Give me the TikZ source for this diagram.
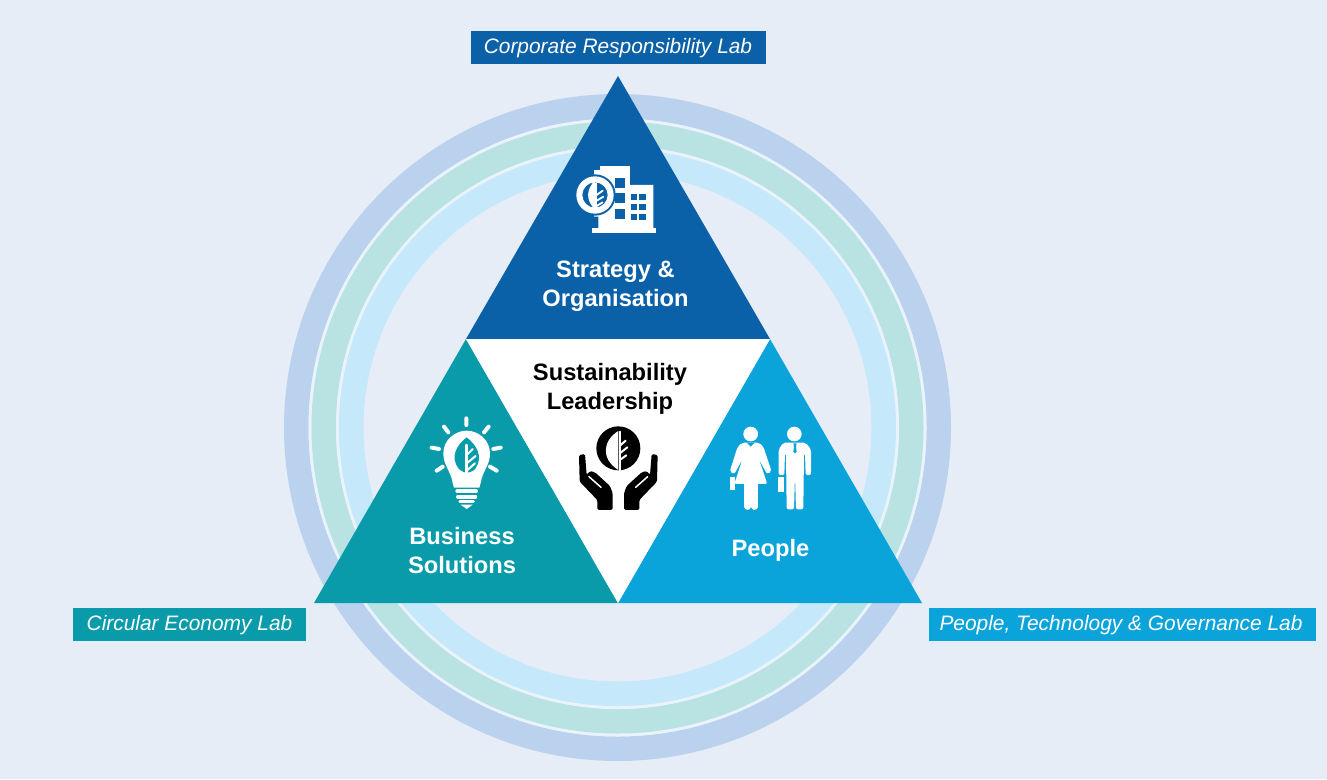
\documentclass[tikz,border=0pt]{standalone}
\usepackage{fontspec}
\setmainfont{Liberation Sans}
\definecolor{bgc}{HTML}{E6EDF6}
\definecolor{ringa}{HTML}{BAD2EE}
\definecolor{ringb}{HTML}{B9E2E3}
\definecolor{ringc}{HTML}{C5E8FA}
\definecolor{gapc}{HTML}{EAF3FB}
\definecolor{dblue}{HTML}{0A61A8}
\definecolor{teal}{HTML}{0A9BAB}
\definecolor{sky}{HTML}{0AA3DA}
\tikzset{
 x=1pt,y=-1pt,
 tag/.style={inner sep=0pt,text=white,font=\fontsize{20.9}{24}\selectfont\itshape},
 headw/.style={inner sep=0pt,align=center,text=white,font=\fontsize{23.7}{29}\selectfont\bfseries},
 headk/.style={inner sep=0pt,align=center,text=black,font=\fontsize{23.7}{29}\selectfont\bfseries},
 icon/.style={x=0.3333pt,y=-0.3333pt,line cap=round,line join=round},
}
\begin{document}
\begin{tikzpicture}
\useasboundingbox (0,0) rectangle (1327,779);
\fill[bgc] (0,0) rectangle (1327,779);
% rings
\draw[ringa,line width=24.5pt] (617.5,427.5) circle[radius=321.25];
\draw[gapc,line width=3pt] (617.5,427.5) circle[radius=307.5];
\draw[ringb,line width=24.5pt] (617.5,427.5) circle[radius=293.75];
\draw[gapc,line width=3pt] (617.5,427.5) circle[radius=280];
\draw[ringc,line width=24.5pt] (617.5,427.5) circle[radius=266.25];
% triangles
\fill[dblue] (618,76) -- (770,339) -- (466,339) -- cycle;
\fill[teal] (466,339) -- (618,603) -- (314,603) -- cycle;
\fill[sky] (770,339) -- (922,603) -- (618,603) -- cycle;
\fill[white] (466,339) -- (770,339) -- (618,603) -- cycle;
% tags
\fill[dblue] (471,31) rectangle (766,64);
\fill[teal] (73,608) rectangle (306,641);
\fill[sky] (929,608) rectangle (1316,641);
\node[tag] (lab1) at (618,48.5) {Corporate Responsibility Lab};
\node[tag] (lab2) at (189.5,625.5) {Circular Economy Lab};
\node[tag] (lab3) at (1121,625.5) {People, Technology \& Governance Lab};
% headings
\node[headw] (strat) at (615.5,286.5) {Strategy \&\\Organisation};
\node[headw] (biz) at (462,551) {Business\\Solutions};
\node[headw] (ppl) at (770.5,550) {People};
\node[headk] (lead) at (610,389) {Sustainability\\Leadership};
% building icon
\begin{scope}[shift={(540,150)},icon]
 \fill[white] (155,235) rectangle (347,250);
 \fill[white] (162,60) -- (180,60) -- (180,48) -- (270,48) -- (270,105) -- (340,105) -- (340,240) -- (175,240) -- (175,200) -- (162,200) -- cycle;
 \fill[dblue] (165,135) circle[radius=62];
 \fill[white,even odd rule] (165,135) circle[radius=56] (165,135) circle[radius=38];
 \fill[white] (165,92) .. controls (140,115) and (135,150) .. (165,178) -- cycle;
 \draw[white,line width=1.8pt] (168,100) -- (168,178);
 \draw[white,line width=1.8pt] (170,135) -- (188,122) (170,152) -- (190,140) (170,168) -- (188,157);
 \foreach \a/\b in {226/85,226/130,226/178}{\fill[dblue] (\a,\b) rectangle ++(30,30);}
 \foreach \a/\b in {272/133,298/133,272/163,298/163,272/192,298/192}{\fill[dblue] (\a,\b) rectangle ++(19,18);}
\end{scope}
% bulb icon
\begin{scope}[shift={(410,400)},icon]
 \fill[white] (125,235) .. controls (115,205) and (100,190) .. (100,160) .. controls (100,120) and (135,92) .. (170,92) .. controls (205,92) and (240,120) .. (240,160) .. controls (240,190) and (225,205) .. (215,235) .. controls (212,250) and (210,258) .. (208,263) -- (132,263) .. controls (130,258) and (128,250) .. (125,235) -- cycle;
 \fill[teal] (170,112) .. controls (140,135) and (120,170) .. (145,205) .. controls (155,215) and (165,218) .. (170,218) .. controls (175,218) and (190,215) .. (197,205) .. controls (220,170) and (200,135) .. (170,112) -- cycle;
 \draw[white,line width=2.5pt] (170,135) -- (170,245);
 \draw[white,line width=2pt] (170,165) -- (188,147) (170,190) -- (197,168) (170,212) -- (195,190);
 \draw[white,line width=4pt] (169,55) -- (169,75) (102,80) -- (115,97) (236,80) -- (222,97) (65,143) -- (87,147) (272,143) -- (250,147) (80,212) -- (98,200) (260,212) -- (240,200);
 \draw[white,line width=4pt] (142,273) -- (198,273) (144,290) -- (196,290);
 \draw[white,line width=3.5pt] (150,305) -- (190,305);
 \fill[white] (152,314) -- (188,314) -- (170,327) -- cycle;
\end{scope}
% hands icon
\begin{scope}[shift={(560,410)},icon]
 \fill[black] (175,115) circle[radius=66];
 \fill[white] (175,63) .. controls (130,90) and (120,145) .. (175,180) -- cycle;
 \draw[white,line width=2pt] (180,65) -- (180,180);
 \draw[white,line width=2pt] (182,105) -- (197,92) (182,128) -- (202,112) (182,148) -- (199,136);
 \foreach \m in {1,-1}{
 \begin{scope}[xshift=58.33pt,xscale=\m]
  \fill[black,rounded corners=1.5pt] (-118,135) -- (-100,132) -- (-95,195) -- (-85,183) -- (-70,187) -- (-25,228) -- (-17,250) -- (-17,300) -- (-63,300) -- (-63,270) -- (-116,215) -- cycle;
  \draw[white,line width=1.5pt] (-88,200) -- (-52,232);
 \end{scope}}
\end{scope}
% people icon
\begin{scope}[shift={(715,410)},icon]
 \fill[white] (107,72) circle[radius=22];
 \fill[white] (238,72) circle[radius=22];
 % woman
 \fill[white,rounded corners=2pt] (82,98) -- (132,98) -- (145,110) -- (170,185) -- (156,192) -- (132,148) -- (157,222) -- (58,222) -- (82,148) -- (58,192) -- (44,185) -- (68,110) -- cycle;
 \draw[white,line width=6.5pt,line cap=round] (98,222) -- (98,290) (119,222) -- (119,290);
 \fill[white] (44,202) rectangle (60,240);
 \fill[sky] (95,98) -- (107,110) -- (119,98) -- cycle;
 % man
 \fill[white,rounded corners=2pt] (205,98) -- (272,98) -- (288,118) -- (288,195) -- (272,195) -- (270,130) -- (267,130) -- (265,298) -- (243,298) -- (240,195) -- (237,298) -- (215,298) -- (213,130) -- (210,130) -- (208,195) -- (191,195) -- (191,118) -- cycle;
 \fill[sky] (235,100) -- (245,100) -- (243,110) -- (245,125) -- (240,130) -- (235,125) -- (237,110) -- cycle;
 \fill[white] (190,200) rectangle (206,245);
\end{scope}
\end{tikzpicture}
\end{document}
